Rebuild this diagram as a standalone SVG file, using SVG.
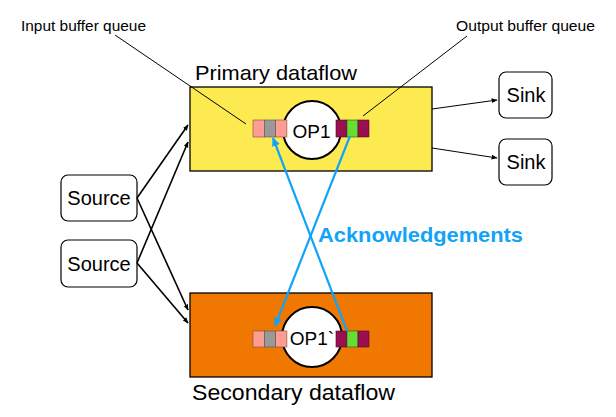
<svg xmlns="http://www.w3.org/2000/svg" width="616" height="417" viewBox="0 0 616 417">
<defs>
<style>
.t{font-family:"Liberation Sans",Arial,sans-serif;fill:#000}
.node{fill:#fff;stroke:#000;stroke-width:1.2}
.ln{stroke:#000;stroke-width:1.6;fill:none}
.thin{stroke:#000;stroke-width:1;fill:none}
.ack{stroke:#12A3F8;stroke-width:2.2;fill:none}
.pk{fill:#FF9C94;stroke:#7a4a3a;stroke-width:0.6}
.gy{fill:#999;stroke:#555;stroke-width:0.6}
.pu{fill:#990F4F;stroke:#4a1028;stroke-width:0.6}
.gr{fill:#66DD33;stroke:#2a5a1a;stroke-width:0.6}
</style>
<marker id="ah" viewBox="0 0 10 10" refX="9" refY="5" markerWidth="6" markerHeight="6" orient="auto" markerUnits="userSpaceOnUse">
<path d="M0,1 L10,5 L0,9 z" fill="#000"/>
</marker>
<marker id="ahb" viewBox="0 0 10 10" refX="9" refY="5" markerWidth="9" markerHeight="9" orient="auto" markerUnits="userSpaceOnUse">
<path d="M0,0.5 L10,5 L0,9.5 z" fill="#12A3F8"/>
</marker>
</defs>
<rect width="616" height="417" fill="#fff"/>

<g id="primary">
<rect x="190" y="87" width="242" height="84" fill="#FDEA50" stroke="#000" stroke-width="1.3"/>
<circle cx="312" cy="130" r="29" fill="#fff" stroke="#000" stroke-width="2"/>
<rect class="pk" x="253" y="120" width="11.3" height="17"/>
<rect class="gy" x="264.3" y="120" width="11.3" height="17"/>
<rect class="pk" x="275.6" y="120" width="11.3" height="17"/>
<rect class="pu" x="336" y="120" width="11" height="17"/>
<rect class="gr" x="347" y="120" width="11" height="17"/>
<rect class="pu" x="358" y="120" width="11" height="17"/>
<text class="t" x="311.5" y="138" font-size="19" text-anchor="middle">OP1</text>
</g>
<text class="t" x="195" y="80" font-size="21" textLength="162" lengthAdjust="spacingAndGlyphs">Primary dataflow</text>

<g id="secondary">
<rect x="190" y="293" width="242" height="84" fill="#F07800" stroke="#000" stroke-width="1.3"/>
<circle cx="312" cy="337" r="30" fill="#fff" stroke="#000" stroke-width="2"/>
<rect class="pk" x="253" y="331" width="11.3" height="16"/>
<rect class="gy" x="264.3" y="331" width="11.3" height="16"/>
<rect class="pk" x="275.6" y="331" width="11.3" height="16"/>
<rect class="pu" x="336" y="331" width="11" height="16"/>
<rect class="gr" x="347" y="331" width="11" height="16"/>
<rect class="pu" x="358" y="331" width="11" height="16"/>
<text class="t" x="312" y="345" font-size="19" text-anchor="middle">OP1`</text>
</g>
<text class="t" x="192" y="400" font-size="22" textLength="203" lengthAdjust="spacingAndGlyphs">Secondary dataflow</text>

<g id="source1">
<rect class="node" x="61" y="175" width="76" height="46" rx="7"/>
<text class="t" x="99" y="205" font-size="20" text-anchor="middle">Source</text>
</g>
<g id="source2">
<rect class="node" x="61" y="240" width="76" height="47" rx="7"/>
<text class="t" x="99" y="271" font-size="20" text-anchor="middle">Source</text>
</g>
<g id="sink1">
<rect class="node" x="499" y="72" width="53" height="46" rx="7"/>
<text class="t" x="526" y="102" font-size="20" text-anchor="middle">Sink</text>
</g>
<g id="sink2">
<rect class="node" x="499" y="139" width="53" height="46" rx="7"/>
<text class="t" x="526" y="169" font-size="20" text-anchor="middle">Sink</text>
</g>

<g id="labels">
<text class="t" x="21" y="31" font-size="14.5" textLength="125" lengthAdjust="spacingAndGlyphs">Input buffer queue</text>
<text class="t" x="456" y="31" font-size="14.5" textLength="139" lengthAdjust="spacingAndGlyphs">Output buffer queue</text>
</g>

<g id="connectors">
<line class="thin" x1="115" y1="35" x2="246" y2="124"/>
<line class="thin" x1="467" y1="36" x2="363" y2="116"/>
<line class="ln" x1="137" y1="198" x2="188" y2="125" marker-end="url(#ah)"/>
<line class="ln" x1="137" y1="198" x2="188" y2="310" marker-end="url(#ah)"/>
<line class="ln" x1="137" y1="263" x2="188" y2="142" marker-end="url(#ah)"/>
<line class="ln" x1="137" y1="263" x2="188" y2="323" marker-end="url(#ah)"/>
<line class="thin" x1="432" y1="109" x2="497" y2="100" marker-end="url(#ah)"/>
<line class="thin" x1="432" y1="148" x2="497" y2="158" marker-end="url(#ah)"/>
<line class="ack" x1="347" y1="331" x2="273" y2="138" marker-end="url(#ahb)"/>
<line class="ack" x1="350" y1="136" x2="275" y2="326" marker-end="url(#ahb)"/>
</g>
<text x="318" y="242" font-family="Liberation Sans,Arial,sans-serif" font-weight="bold" font-size="21" fill="#12A3F8" textLength="205" lengthAdjust="spacingAndGlyphs">Acknowledgements</text>
</svg>
